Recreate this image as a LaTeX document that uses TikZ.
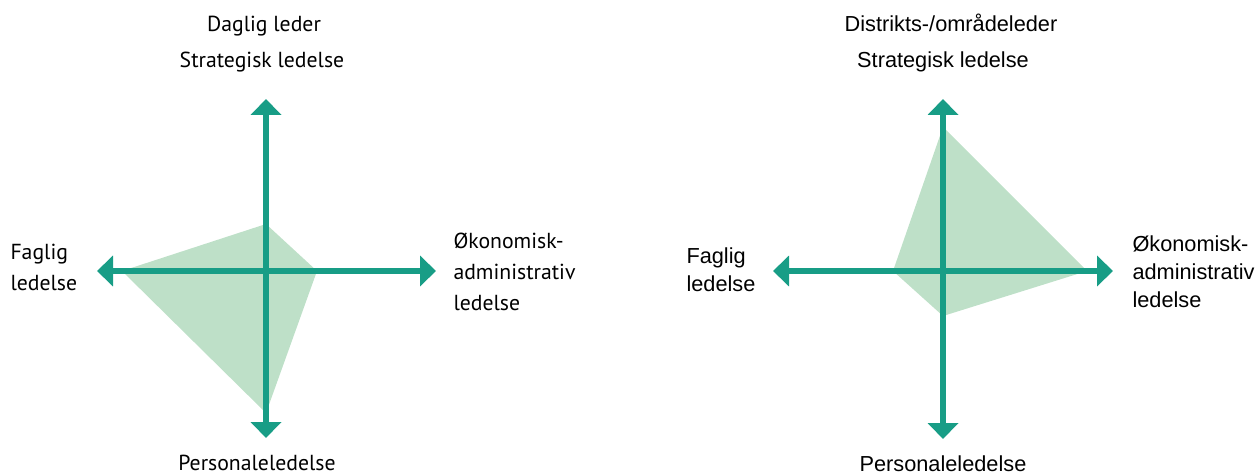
\documentclass[tikz,border=0pt]{standalone}
\usepackage{fontspec}
\setmainfont{Liberation Sans}
\newfontfamily\leftfont{PT Sans}
\usetikzlibrary{arrows.meta}

\definecolor{axisteal}{RGB}{24,157,134}
\definecolor{areagreen}{RGB}{190,224,200}

\tikzset{every picture/.style={line width=0.75pt}}
\tikzset{
  axis/.style={draw=axisteal, line width=4.2pt, {Triangle[width=22.5pt,length=12pt]}-{Triangle[width=22.5pt,length=12pt]}},
  area/.style={fill=areagreen, draw=none},
  lbl/.style={inner sep=0pt, align=left, font=\fontsize{16.3}{23}\selectfont\leftfont},
  rbl/.style={inner sep=0pt, align=left, font=\fontsize{16.3}{21}\selectfont}
}

\begin{document}
\begin{tikzpicture}[x=0.75pt,y=0.75pt,yscale=-1,xscale=1]
				\useasboundingbox (0,0) rectangle (1256,474);
				
				%Axis ends: left diagram
				\coordinate (ltop) at (266,99);
				\coordinate (lbot) at (266,438);
				\coordinate (lwest) at (97,271);
				\coordinate (least) at (436,271);
				%Axis ends: right diagram
				\coordinate (rtop) at (943,99);
				\coordinate (rbot) at (943,439);
				\coordinate (rwest) at (773,271);
				\coordinate (reast) at (1113,271);
				
				%Shape: Polygon [left]
				\fill [area] (266,224) -- (317,271) -- (266,413) -- (122,271) -- cycle ;
				%Shape: Polygon [right]
				\fill [area] (943,127) -- (1087,271) -- (943,316) -- (893,271) -- cycle ;
				
				%Straight Lines [left]
				\draw [axis] (lbot) -- (ltop) ;
				\draw [axis] (lwest) -- (least) ;
				%Straight Lines [right]
				\draw [axis] (rbot) -- (rtop) ;
				\draw [axis] (rwest) -- (reast) ;
				
				% Text Node
				\node [lbl, anchor=base] (lleder) at (264,32) {Daglig leder};
				% Text Node
				\node [lbl, anchor=base] (lstrat) at (262,68) {Strategisk ledelse};
				% Text Node
				\node [lbl, anchor=base west] (lfag) at (10,290) {Faglig\\ledelse};
				% Text Node
				\node [lbl, anchor=base west] (lokon) at (453,310) {Økonomisk-\\administrativ\\ledelse};
				% Text Node
				\node [lbl, anchor=base] (lpers) at (257,470) {Personaleledelse};
				
				% Text Node
				\node [rbl, anchor=base] (rleder) at (951,32) {Distrikts-/områdeleder};
				% Text Node
				\node [rbl, anchor=base] (rstrat) at (943,68) {Strategisk ledelse};
				% Text Node
				\node [rbl, anchor=base west] (rfag) at (686,291) {Faglig\\ledelse};
				% Text Node
				\node [rbl, anchor=base west] (rokon) at (1132,307) {Økonomisk-\\administrativ\\ledelse};
				% Text Node
				\node [rbl, anchor=base] (rpers) at (943,471) {Personaleledelse};
\end{tikzpicture}
\end{document}
